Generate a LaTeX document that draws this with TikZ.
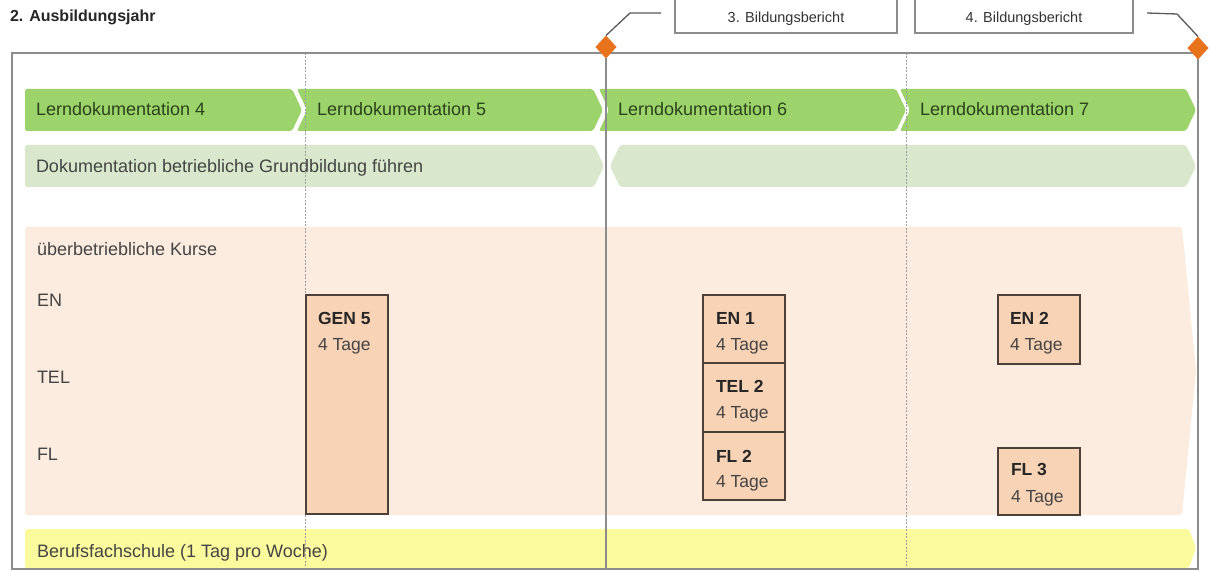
\documentclass[tikz,border=0pt]{standalone}
\usepackage{fontspec}
\setmainfont{Liberation Sans}
\usetikzlibrary{shapes.geometric}
\definecolor{lgreen}{HTML}{9DD36B}
\definecolor{pgreen}{HTML}{D9E8CD}
\definecolor{peach}{HTML}{FCEBDF}
\definecolor{cfill}{HTML}{F9D3B6}
\definecolor{cline}{HTML}{4D4038}
\definecolor{yel}{HTML}{FBFB9E}
\definecolor{orng}{HTML}{E8731C}
\definecolor{framec}{HTML}{8C8C8C}
\definecolor{txtc}{HTML}{444444}
\definecolor{gtxt}{HTML}{2C421C}
\begin{document}
\begin{tikzpicture}[x=1pt,y=-1pt,
  every node/.style={inner sep=0pt, outer sep=0pt},
  lbl/.style={anchor=base west, font=\fontsize{18pt}{21pt}\selectfont, text=txtc},
  glbl/.style={lbl, text=gtxt},
  ctitle/.style={anchor=base west, font=\fontsize{17.5pt}{21pt}\selectfont\bfseries, text=black!85},
  cdays/.style={anchor=base west, font=\fontsize{17.5pt}{21pt}\selectfont, text=txtc},
  cbox/.style={draw=cline, line width=1.2pt, fill=cfill, minimum width=82pt, anchor=north west},
  bbox/.style={draw=framec, line width=1.2pt, fill=white, minimum height=50pt, anchor=south west},
  btxt/.style={anchor=base, font=\fontsize{14.5pt}{17pt}\selectfont, text=black!80},
  dotline/.style={draw=framec!85, line width=0.9pt, dash pattern=on 2pt off 1.5pt},
  lead/.style={draw=black!65, line width=1.3pt},
  dia/.style={diamond, fill=orng, minimum width=21pt, minimum height=23pt}
]
\useasboundingbox (0,0) rectangle (1210,572);
\fill[white] (0,0) rectangle (1210,572);

% title
\node[anchor=base west, font=\fontsize{16pt}{19pt}\selectfont\bfseries, text=black!85] (title) at (10,22) {2. Ausbildungsjahr};

% report boxes
\node[bbox, minimum width=222pt] (b3) at (675,33) {};
\node[btxt] (b3t) at (786,23) {3. Bildungsbericht};
\node[bbox, minimum width=218pt] (b4) at (915,33) {};
\node[btxt] (b4t) at (1024,23) {4. Bildungsbericht};

% row 1 chevrons
\begin{scope}[rounded corners=2pt]
\fill[lgreen] (25,89) -- (292,89) -- (302,110) -- (292,131) -- (25,131) -- cycle;
\fill[lgreen] (297,89) -- (593,89) -- (603,110) -- (593,131) -- (297,131) -- (307,110) -- cycle;
\fill[lgreen] (599,89) -- (896,89) -- (906,110) -- (896,131) -- (599,131) -- (609,110) -- cycle;
\fill[lgreen] (900,89) -- (1186,89) -- (1196,110) -- (1186,131) -- (900,131) -- (910,110) -- cycle;
% row 2
\fill[pgreen] (25,145) -- (594,145) -- (604,166) -- (594,187) -- (25,187) -- cycle;
\fill[pgreen] (620,145) -- (1186,145) -- (1196,166) -- (1186,187) -- (620,187) -- (610,166) -- cycle;
% peach area
\fill[peach] (25,227) -- (1182,227) -- (1196,371) -- (1182,515) -- (25,515) -- cycle;
% yellow bar
\fill[yel] (25,529) -- (1189,529) -- (1196,548) -- (1189,568) -- (25,568) -- cycle;
\end{scope}

% vertical lines
\coordinate (v1t) at (305,53); \coordinate (v1b) at (305,569);
\coordinate (v3t) at (906,53); \coordinate (v3b) at (906,569);
\coordinate (v2b) at (606,569);
\draw[dotline] (v1t) -- (v1b);
\draw[dotline] (v3t) -- (v3b);

% frame
\draw[framec, line width=1.5pt] (12,53) rectangle (1198,569);

% diamonds and solid line
\node[dia] (dia1) at (606,47) {};
\node[dia] (dia2) at (1198,48) {};
\draw[framec, line width=2pt] (dia1.south) -- (v2b);

% leader lines
\coordinate (l3a) at (661,13); \coordinate (l3b) at (630,13);
\coordinate (l4a) at (1147,13); \coordinate (l4b) at (1177,14);
\draw[lead] (l3a) -- (l3b) -- (dia1.north);
\draw[lead] (l4a) -- (l4b) -- (dia2.north);

% row labels
\node[glbl] (ld4) at (36,116) {Lerndokumentation 4};
\node[glbl] (ld5) at (317,116) {Lerndokumentation 5};
\node[glbl] (ld6) at (618,116) {Lerndokumentation 6};
\node[glbl] (ld7) at (920,116) {Lerndokumentation 7};
\node[lbl] (dok) at (36,173) {Dokumentation betriebliche Grundbildung führen};
\node[lbl] (uek) at (37,255) {überbetriebliche Kurse};
\node[lbl] (en) at (37,306) {EN};
\node[lbl] (tel) at (37,383) {TEL};
\node[lbl] (fl) at (37,460) {FL};
\node[lbl] (bfs) at (37,557) {Berufsfachschule (1 Tag pro Woche)};

% course boxes
\node[cbox, minimum height=219pt] (gen5) at (306,295) {};
\node[cbox, minimum height=68pt] (en1) at (703,295) {};
\node[cbox, minimum height=69pt] (tel2) at (703,363) {};
\node[cbox, minimum height=68pt] (fl2) at (703,432) {};
\node[cbox, minimum height=69pt] (en2) at (998,295) {};
\node[cbox, minimum height=67pt] (fl3) at (998,448) {};

\node[ctitle] (gen5a) at (318,324) {GEN 5};
\node[cdays] (gen5b) at (318,350) {4 Tage};
\node[ctitle] (en1a) at (716,324) {EN 1};
\node[cdays] (en1b) at (716,350) {4 Tage};
\node[ctitle] (tel2a) at (716,392) {TEL 2};
\node[cdays] (tel2b) at (716,418) {4 Tage};
\node[ctitle] (fl2a) at (716,462) {FL 2};
\node[cdays] (fl2b) at (716,487) {4 Tage};
\node[ctitle] (en2a) at (1010,324) {EN 2};
\node[cdays] (en2b) at (1010,350) {4 Tage};
\node[ctitle] (fl3a) at (1011,475) {FL 3};
\node[cdays] (fl3b) at (1011,502) {4 Tage};
\end{tikzpicture}
\end{document}
